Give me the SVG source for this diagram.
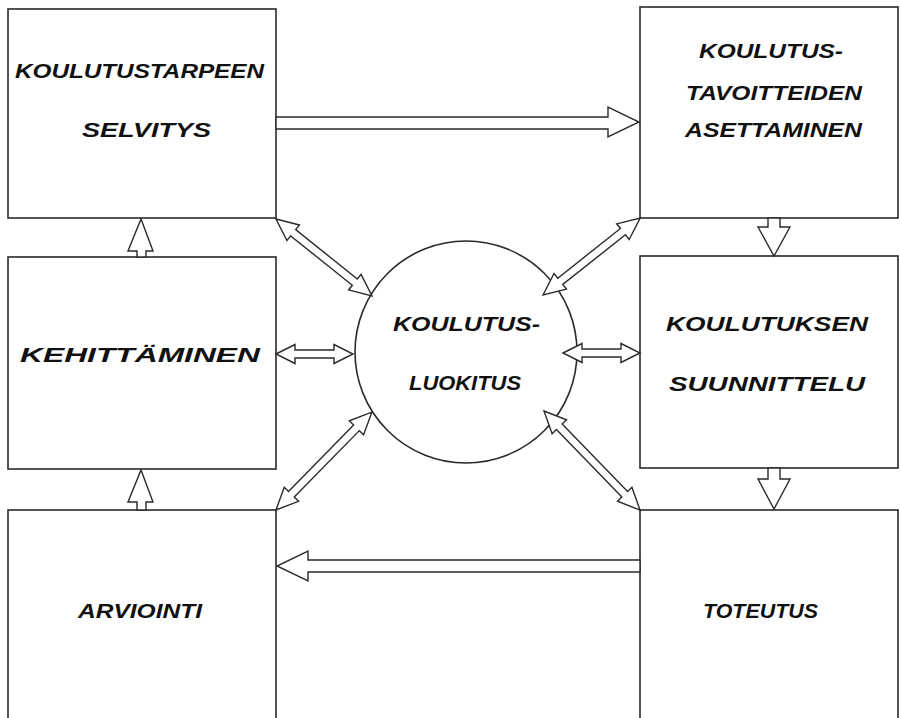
<svg xmlns="http://www.w3.org/2000/svg" width="900" height="718" viewBox="0 0 900 718">
  <style>
    .box { fill: #ffffff; stroke: #2a2a2a; stroke-width: 1.6; }
    .arrow { fill: #ffffff; stroke: #2a2a2a; stroke-width: 1.4; stroke-linejoin: miter; }
    .label { font-family: "Liberation Sans", Arial, sans-serif; font-weight: bold; font-style: italic; font-size: 20px; fill: #111111; }
  </style>
  <rect width="900" height="718" fill="#ffffff"/>

  <g id="koulutustarpeen-selvitys">
    <rect class="box" x="8" y="9" width="268" height="209"/>
    <text class="label" x="15" y="78" textLength="249" lengthAdjust="spacingAndGlyphs">KOULUTUSTARPEEN</text>
    <text class="label" x="82" y="137" textLength="129" lengthAdjust="spacingAndGlyphs">SELVITYS</text>
  </g>

  <g id="kehittaminen">
    <rect class="box" x="8" y="257" width="268" height="212"/>
    <text class="label" x="20" y="362" textLength="240" lengthAdjust="spacingAndGlyphs">KEHITTÄMINEN</text>
  </g>

  <g id="arviointi">
    <rect class="box" x="8" y="510" width="268" height="212"/>
    <text class="label" x="78" y="618" textLength="124" lengthAdjust="spacingAndGlyphs">ARVIOINTI</text>
  </g>

  <g id="koulutustavoitteiden-asettaminen">
    <rect class="box" x="640" y="7" width="258" height="211"/>
    <text class="label" x="699" y="58" textLength="144" lengthAdjust="spacingAndGlyphs">KOULUTUS-</text>
    <text class="label" x="686" y="100" textLength="176" lengthAdjust="spacingAndGlyphs">TAVOITTEIDEN</text>
    <text class="label" x="685" y="137" textLength="177" lengthAdjust="spacingAndGlyphs">ASETTAMINEN</text>
  </g>

  <g id="koulutuksen-suunnittelu">
    <rect class="box" x="640" y="256" width="258" height="212"/>
    <text class="label" x="666" y="331" textLength="202" lengthAdjust="spacingAndGlyphs">KOULUTUKSEN</text>
    <text class="label" x="669" y="391" textLength="196" lengthAdjust="spacingAndGlyphs">SUUNNITTELU</text>
  </g>

  <g id="toteutus">
    <rect class="box" x="640" y="510" width="258" height="212"/>
    <text class="label" x="703" y="618" textLength="115" lengthAdjust="spacingAndGlyphs">TOTEUTUS</text>
  </g>

  <g id="koulutusluokitus">
    <circle class="box" cx="466" cy="352" r="111"/>
    <text class="label" x="393" y="331" textLength="147" lengthAdjust="spacingAndGlyphs">KOULUTUS-</text>
    <text class="label" x="409" y="390" textLength="112" lengthAdjust="spacingAndGlyphs">LUOKITUS</text>
  </g>

  <g id="connectors">
    <!-- cycle arrows -->
    <polygon class="arrow" points="276,117 608,117 608,107 639,122 608,137 608,129 276,129"/>
    <polygon class="arrow" points="640,560 308,560 308,551 277,566 308,581 308,572 640,572"/>
    <polygon class="arrow" points="768,218 780,218 780,227 790,227 774,256 758,227 768,227"/>
    <polygon class="arrow" points="768,468 780,468 780,479 790,479 774,509 758,479 768,479"/>
    <polygon class="arrow" points="137,257 146,257 146,251 153,251 141,219 128,251 137,251"/>
    <polygon class="arrow" points="137,510 146,510 146,502 153,502 141,470 128,502 137,502"/>

    <!-- double arrows to the centre -->
    <path class="arrow" transform="translate(276,354)" d="M0,0 L19,-9.5 L19,-4 L58,-4 L58,-9.5 L77,0 L58,9.5 L58,4 L19,4 L19,9.5 Z"/>
    <path class="arrow" transform="translate(563,353)" d="M0,0 L19,-9.5 L19,-4 L58,-4 L58,-9.5 L77,0 L58,9.5 L58,4 L19,4 L19,9.5 Z"/>
    <path class="arrow" transform="translate(276,219) rotate(38.7)" d="M0,0 L22,-10 L22,-4 L101,-4 L101,-10 L123,0 L101,10 L101,4 L22,4 L22,10 Z"/>
    <path class="arrow" transform="translate(543,295) rotate(-38.4)" d="M0,0 L22,-10 L22,-4 L102,-4 L102,-10 L124,0 L102,10 L102,4 L22,4 L22,10 Z"/>
    <path class="arrow" transform="translate(276,510) rotate(-45.6)" d="M0,0 L22,-10 L22,-4 L115,-4 L115,-10 L137,0 L115,10 L115,4 L22,4 L22,10 Z"/>
    <path class="arrow" transform="translate(544,411) rotate(45.9)" d="M0,0 L22,-10 L22,-4 L116,-4 L116,-10 L138,0 L116,10 L116,4 L22,4 L22,10 Z"/>
  </g>
</svg>
